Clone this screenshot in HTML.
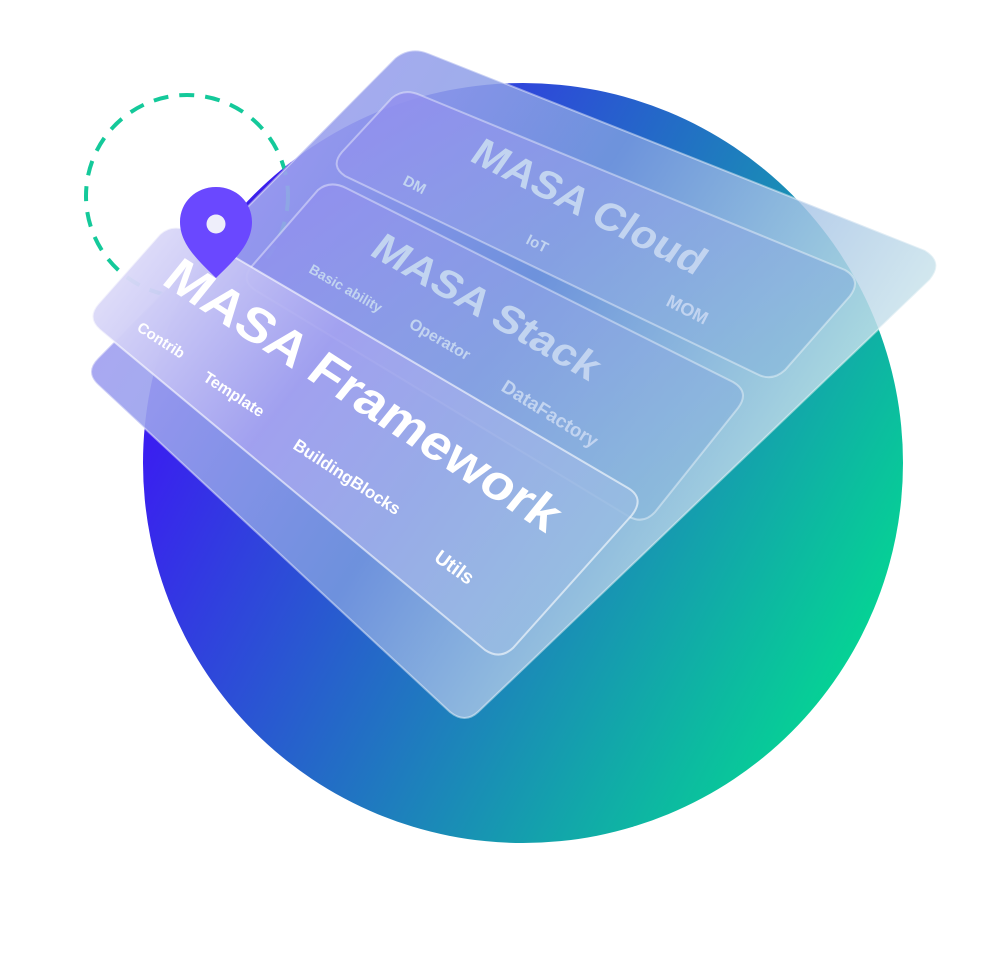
<!DOCTYPE html>
<html><head><meta charset="utf-8"><style>
html,body{margin:0;padding:0;background:#fff;width:987px;height:959px;overflow:hidden}
svg{display:block}
text{font-family:"Liberation Sans","DejaVu Sans",sans-serif;font-weight:bold}
</style></head><body>
<svg width="987" height="959" viewBox="0 0 987 959" xmlns="http://www.w3.org/2000/svg">
<defs>
<linearGradient id="cg" x1="0.1" y1="0.3" x2="0.95" y2="0.75">
<stop offset="0" stop-color="#3a1ff0"/>
<stop offset="0.45" stop-color="#2270c4"/>
<stop offset="1" stop-color="#05d494"/>
</linearGradient>
<linearGradient id="sg" x1="0.1" y1="0.2" x2="0.9" y2="0.6">
<stop offset="0" stop-color="#a6a3f2" stop-opacity="0.95"/>
<stop offset="0.5" stop-color="#7f9fe0" stop-opacity="0.8"/>
<stop offset="1" stop-color="#cfe8ec" stop-opacity="0.85"/>
</linearGradient>
<linearGradient id="fg" x1="0" y1="0.2" x2="1" y2="0.8">
<stop offset="0" stop-color="#dcdaf8" stop-opacity="0.97"/>
<stop offset="0.35" stop-color="#a4a2f0" stop-opacity="0.9"/>
<stop offset="1" stop-color="#96c0e0" stop-opacity="0.85"/>
</linearGradient>
<linearGradient id="kg" x1="0" y1="0" x2="1" y2="1">
<stop offset="0" stop-color="#928cf0" stop-opacity="0.85"/>
<stop offset="1" stop-color="#86bcd8" stop-opacity="0.7"/>
</linearGradient>
</defs>
<circle cx="523" cy="463" r="380" fill="url(#cg)"/>
<circle cx="187" cy="196" r="101" fill="none" stroke="#14c99a" stroke-width="4" stroke-dasharray="15 11"/>
<line x1="248" y1="205" x2="292" y2="163" stroke="#3a20e0" stroke-width="3"/>
<!-- big back sheet -->
<path d="M395,58 Q410,46 428,53 L925,250 Q945,262 930,280 L478,712 Q465,724 450,712 L98,385 Q84,372 98,358 Z" fill="url(#sg)" stroke="rgba(255,255,255,0.45)" stroke-width="2"/>
<!-- cloud card -->
<path d="M392,98 Q404,88 420,95 L845,270 Q862,280 850,296 L785,370 Q772,382 757,374 L345,176 Q330,166 342,152 Z" fill="url(#kg)" stroke="rgba(255,255,255,0.4)" stroke-width="2"/>
<!-- stack card -->
<path d="M318,190 Q330,180 346,188 L733,382 Q750,392 738,408 L655,512 Q643,525 628,516 L255,290 Q240,280 252,266 Z" fill="url(#kg)" stroke="rgba(255,255,255,0.4)" stroke-width="2"/>
<!-- framework card -->
<path d="M160,234 Q172,223 190,231 L628,488 Q645,498 632,515 L513,648 Q500,660 485,650 L100,330 Q86,318 98,304 Z" fill="url(#fg)" stroke="rgba(255,255,255,0.6)" stroke-width="2"/>
<!-- pin -->
<path d="M216,278 C200,262 180,245 180,222 C180,202 196,187 216,187 C236,187 252,202 252,222 C252,245 232,262 216,278 Z" fill="#6a48ff"/>
<circle cx="216" cy="224" r="9.5" fill="#eeeefa"/>
<!-- texts -->
<g fill="#c2d4f0">
<text transform="translate(468,160) rotate(27) skewX(-8)" font-size="40" textLength="255" lengthAdjust="spacingAndGlyphs">MASA Cloud</text>
<text transform="translate(402,184) rotate(27)" font-size="15">DM</text>
<text transform="translate(525,243) rotate(27)" font-size="15">IoT</text>
<text transform="translate(665,305) rotate(27)" font-size="18">MOM</text>
<text transform="translate(368,254) rotate(30) skewX(-8)" font-size="40" textLength="255" lengthAdjust="spacingAndGlyphs">MASA Stack</text>
<text transform="translate(308,272) rotate(30)" font-size="14">Basic ability</text>
<text transform="translate(408,327) rotate(30)" font-size="16">Operator</text>
<text transform="translate(500,390) rotate(32)" font-size="19">DataFactory</text>
</g>
<g fill="#ffffff">
<text transform="translate(160,283) rotate(33) skewX(-6)" font-size="50" textLength="460" lengthAdjust="spacingAndGlyphs">MASA Framework</text>
<text transform="translate(136,330) rotate(33)" font-size="15">Contrib</text>
<text transform="translate(202,380) rotate(33)" font-size="16">Template</text>
<text transform="translate(292,448) rotate(33)" font-size="17">BuildingBlocks</text>
<text transform="translate(433,560) rotate(36)" font-size="20">Utils</text>
</g>
</svg>
</body></html>
